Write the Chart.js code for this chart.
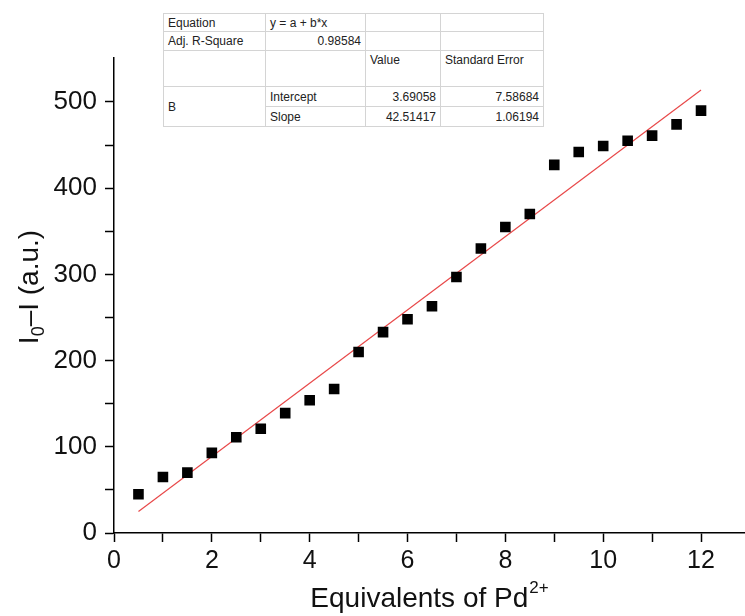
<!DOCTYPE html>
<html>
<head>
<meta charset="utf-8">
<script src="https://cdn.jsdelivr.net/npm/chart.js@4.4.1/dist/chart.umd.min.js"></script>
<style>
  html, body { margin: 0; padding: 0; background: #fff; overflow: hidden; }
  #wrap { position: relative; width: 745px; height: 616px; overflow: hidden; }
  #chart { position: absolute; left: 0; top: 0; }
  #fit-table {
    position: absolute; left: 163px; top: 13px;
    border-collapse: collapse; table-layout: fixed;
    font-family: "Liberation Sans", Arial, sans-serif; font-size: 12px; color: #222;
    background: #fff; border: 1px solid #9a9a9a;
  }
  #fit-table td { border: 1px solid #d4d4d4; padding: 0 4px; white-space: nowrap; overflow: hidden; line-height: 14px; }
  #fit-table td.num { text-align: right; }
  #fit-table tr.tall td { vertical-align: top; padding-top: 2px; }
</style>
</head>
<body>
<div id="wrap">
  <canvas id="chart" width="755" height="616"></canvas>
  <table id="fit-table">
    <colgroup><col style="width:102px"><col style="width:100px"><col style="width:75px"><col style="width:103px"></colgroup>
    <tbody id="fit-body"></tbody>
  </table>
</div>
<script>
// ── Data ───────────────────────────────────────────────────────
const equivalents = [0.5, 1, 1.5, 2, 2.5, 3, 3.5, 4, 4.5, 5, 5.5, 6, 6.5, 7, 7.5, 8, 8.5, 9, 9.5, 10, 10.5, 11, 11.5, 12];
const intensity   = [45, 65, 70, 93, 111, 121, 139, 154, 167, 210, 233, 248, 263, 297, 330, 355, 370, 427, 442, 449, 455, 461, 474, 490];
const fitX = [0.5, 12];
const fitY = [24.9, 513.9];

// tick positions (labels only on the even / hundred ones)
const xTicks = [0, 1, 2, 3, 4, 5, 6, 7, 8, 9, 10, 11, 12];
const yTicks = [0, 50, 100, 150, 200, 250, 300, 350, 400, 450, 500];

// fit report table
const fitRows = [
  ['Equation', 'y = a + b*x', '', ''],
  ['Adj. R-Square', '0.98584', '', ''],
  ['', '', 'Value', 'Standard Error'],
  ['B', 'Intercept', '3.69058', '7.58684'],
  ['', 'Slope', '42.51417', '1.06194'],
];
const rowHeights = [18, 19, 36, 20, 20];

// ── Table ──────────────────────────────────────────────────────
const body = document.getElementById('fit-body');
fitRows.forEach((r, i) => {
  const tr = document.createElement('tr');
  tr.style.height = rowHeights[i] + 'px';
  if (i === 2) tr.className = 'tall';
  r.forEach((txt, j) => {
    if (i === 4 && j === 0) return;           // merged under "B"
    const td = document.createElement('td');
    td.textContent = txt;
    if (i === 3 && j === 0) td.rowSpan = 2;
    if ((i === 1 && j === 1) || (i >= 3 && j >= 2)) td.className = 'num';
    tr.appendChild(td);
  });
  body.appendChild(tr);
});

// ── Axis titles (with sub/superscripts) ────────────────────────
const FONT = '"Liberation Sans", Arial, sans-serif';
const titles = {
  id: 'titles',
  afterDraw(chart) {
    const { ctx } = chart;
    ctx.save();
    ctx.fillStyle = '#111';
    ctx.textBaseline = 'alphabetic';
    // x title
    ctx.font = '28px ' + FONT;
    const main = 'Equivalents of Pd';
    const wMain = ctx.measureText(main).width;
    ctx.font = '17px ' + FONT;
    const wSup = ctx.measureText('2+').width;
    const cx = 429;
    let x0 = cx - (wMain + wSup) / 2;
    ctx.font = '28px ' + FONT;
    ctx.fillText(main, x0, 607);
    ctx.font = '17px ' + FONT;
    ctx.fillText('2+', x0 + wMain + 1, 593);
    // y title, rotated
    ctx.translate(38, 287);
    ctx.rotate(-Math.PI / 2);
    const parts = [['I', 28, 0], ['0', 18, 6], ['\u2013I (a.u.)', 28, 0]];
    let total = 0;
    parts.forEach(p => { ctx.font = p[1] + 'px ' + FONT; total += ctx.measureText(p[0]).width; });
    let x = -total / 2;
    parts.forEach(p => {
      ctx.font = p[1] + 'px ' + FONT;
      ctx.fillText(p[0], x, p[2]);
      x += ctx.measureText(p[0]).width;
    });
    ctx.restore();
  }
};

// ── Chart ──────────────────────────────────────────────────────
new Chart(document.getElementById('chart'), {
  type: 'scatter',
  data: {
    datasets: [
      {
        label: 'B',
        data: equivalents.map((x, i) => ({ x, y: intensity[i] })),
        pointStyle: 'rect',
        pointRadius: 7.5,
        pointBorderWidth: 0,
        backgroundColor: '#000',
        borderColor: '#000',
      },
      {
        type: 'line',
        label: 'Linear fit',
        data: fitX.map((x, i) => ({ x, y: fitY[i] })),
        borderColor: '#e8494a',
        borderWidth: 1.2,
        pointRadius: 0,
        fill: false,
      }
    ]
  },
  options: {
    responsive: false,
    animation: false,
    layout: { padding: { top: 58, right: 0, left: 0, bottom: 0 } },
    plugins: { legend: { display: false }, tooltip: { enabled: false } },
    scales: {
      x: {
        type: 'linear', min: 0, max: 12.95,
        afterBuildTicks: s => { s.ticks = xTicks.map(v => ({ value: v })); },
        afterFit: s => { s.height = 83; },
        ticks: {
          autoSkip: false, maxRotation: 0, padding: 4,
          color: '#111', font: { family: FONT, size: 25 },
          callback: v => (v % 2 === 0 ? v : ''),
        },
        grid: { drawOnChartArea: false, drawTicks: true, tickLength: 9, color: '#000', tickWidth: 1.5 },
        border: { display: true, color: '#000', width: 1.5 },
      },
      y: {
        min: 0, max: 551,
        afterBuildTicks: s => { s.ticks = yTicks.map(v => ({ value: v })); },
        afterFit: s => { s.width = 114; },
        ticks: {
          autoSkip: false, padding: 8,
          color: '#111', font: { family: FONT, size: 26 },
          callback: v => (v % 100 === 0 ? v : ''),
        },
        grid: { drawOnChartArea: false, drawTicks: true, tickLength: 9, color: '#000', tickWidth: 1.5 },
        border: { display: true, color: '#000', width: 1.5 },
      }
    }
  },
  plugins: [titles]
});
</script>
</body>
</html>
